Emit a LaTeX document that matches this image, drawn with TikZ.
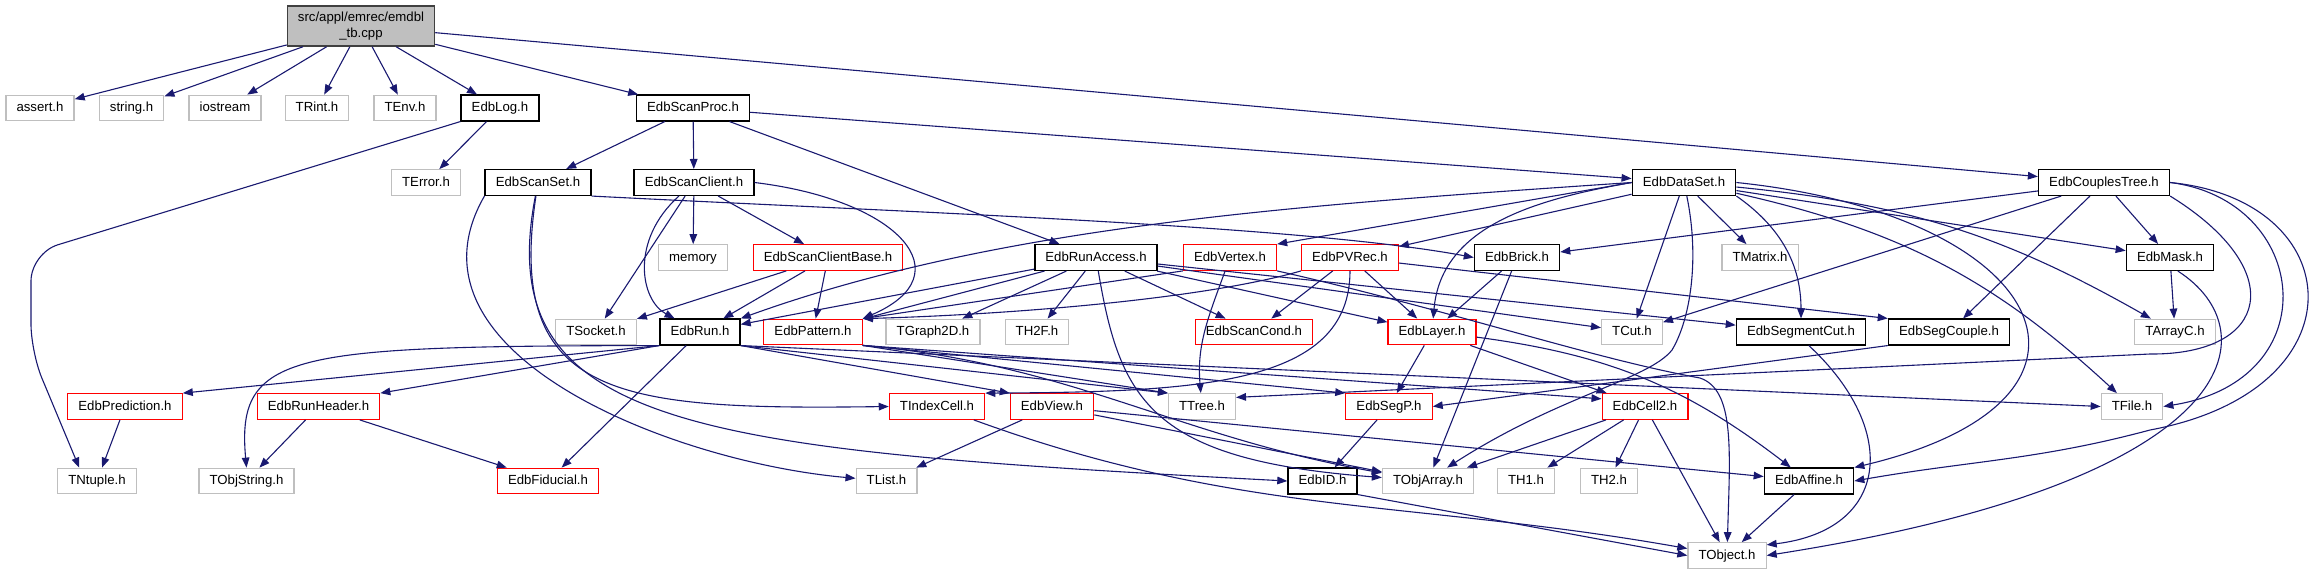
\documentclass[tikz,border=0pt]{standalone}
\usepackage{fontspec}
\setmainfont{Liberation Sans}
\usepackage{tikz}
\usetikzlibrary{arrows.meta}

\definecolor{edgeblue}{HTML}{191970}
\definecolor{hdrgray}{HTML}{BFBFBF}
\definecolor{hdrred}{HTML}{FF0000}

\tikzset{
  hdr/.style={draw, rectangle, line width=0.6pt, minimum height=12.8pt,
    inner xsep=5.3pt, inner ysep=0pt, text height=4.8pt, text depth=1.3pt,
    font=\fontsize{6.6}{7.7}\selectfont},
  syshdr/.style={hdr, draw=hdrgray},
  edbhdr/.style={hdr, draw=black, line width=0.75pt},
  redhdr/.style={hdr, draw=hdrred},
  dep/.style={draw=edgeblue, line width=0.55pt, -{Triangle[length=5pt,width=3.8pt]}}
}

\begin{document}
\begin{tikzpicture}[x=0.5pt, y=-0.5pt]
\useasboundingbox (0,0) rectangle (2320,575);

% the source file
\node[draw=black!75, fill=hdrgray, line width=0.75pt, minimum width=73.5pt, minimum height=20pt,
  inner sep=0pt, align=center, font=\fontsize{6.6}{7.7}\selectfont] (main) at (361,26) {src/appl/emrec/emdbl\\\_tb.cpp};

% row 1
\node[syshdr] (assert) at (40,108) {assert.h};
\node[syshdr] (string) at (131.6,108) {string.h};
\node[syshdr] (iostream) at (225,108) {iostream};
\node[syshdr] (TRint) at (317,108) {TRint.h};
\node[syshdr] (TEnv) at (405,108) {TEnv.h};
\node[edbhdr] (EdbLog) at (500,108) {EdbLog.h};
\node[edbhdr] (EdbScanProc) at (693,108) {EdbScanProc.h};
% row 2
\node[syshdr] (TError) at (426,182.5) {TError.h};
\node[edbhdr] (EdbScanSet) at (538,182.5) {EdbScanSet.h};
\node[edbhdr] (EdbScanClient) at (694,182.5) {EdbScanClient.h};
\node[edbhdr] (EdbDataSet) at (1684,182.5) {EdbDataSet.h};
\node[edbhdr] (EdbCouplesTree) at (2104,182.5) {EdbCouplesTree.h};
% row 3
\node[syshdr] (memory) at (693,257.5) {memory};
\node[redhdr] (EdbScanClientBase) at (828,257.5) {EdbScanClientBase.h};
\node[edbhdr] (EdbRunAccess) at (1096,257.5) {EdbRunAccess.h};
\node[redhdr] (EdbVertex) at (1230,257.5) {EdbVertex.h};
\node[redhdr] (EdbPVRec) at (1350,257.5) {EdbPVRec.h};
\node[edbhdr] (EdbBrick) at (1517,257.5) {EdbBrick.h};
\node[syshdr] (TMatrix) at (1760,257.5) {TMatrix.h};
\node[edbhdr] (EdbMask) at (2170,257.5) {EdbMask.h};
% row 4
\node[syshdr] (TSocket) at (596,332) {TSocket.h};
\node[edbhdr] (EdbRun) at (700,332) {EdbRun.h};
\node[redhdr] (EdbPattern) at (813,332) {EdbPattern.h};
\node[syshdr] (TGraph2D) at (933,332) {TGraph2D.h};
\node[syshdr] (TH2F) at (1037,332) {TH2F.h};
\node[redhdr] (EdbScanCond) at (1254,332) {EdbScanCond.h};
\node[redhdr] (EdbLayer) at (1432,332) {EdbLayer.h};
\node[syshdr] (TCut) at (1632,332) {TCut.h};
\node[edbhdr] (EdbSegmentCut) at (1801,332) {EdbSegmentCut.h};
\node[edbhdr] (EdbSegCouple) at (1949,332) {EdbSegCouple.h};
\node[syshdr] (TArrayC) at (2175,332) {TArrayC.h};
% row 5
\node[redhdr] (EdbPrediction) at (125,406.5) {EdbPrediction.h};
\node[redhdr] (EdbRunHeader) at (318.5,406.5) {EdbRunHeader.h};
\node[redhdr] (TIndexCell) at (937,406.5) {TIndexCell.h};
\node[redhdr] (EdbView) at (1052,406.5) {EdbView.h};
\node[syshdr] (TTree) at (1202,406.5) {TTree.h};
\node[redhdr] (EdbSegP) at (1389,406.5) {EdbSegP.h};
\node[redhdr] (EdbCell2) at (1645,406.5) {EdbCell2.h};
\node[syshdr] (TFile) at (2132,406.5) {TFile.h};
% row 6
\node[syshdr] (TNtuple) at (97,481) {TNtuple.h};
\node[syshdr] (TObjString) at (246.5,481) {TObjString.h};
\node[redhdr] (EdbFiducial) at (548,481) {EdbFiducial.h};
\node[syshdr] (TList) at (886.5,481) {TList.h};
\node[edbhdr] (EdbID) at (1322.5,481) {EdbID.h};
\node[syshdr] (TObjArray) at (1428,481) {TObjArray.h};
\node[syshdr] (TH1) at (1526,481) {TH1.h};
\node[syshdr] (TH2) at (1609,481) {TH2.h};
\node[edbhdr] (EdbAffine) at (1809,481) {EdbAffine.h};
% row 7
\node[syshdr] (TObject) at (1727,555.5) {TObject.h};

% includes of the source file
\draw[dep] (main) -- (assert);
\draw[dep] (main) -- (string);
\draw[dep] (main) -- (iostream);
\draw[dep] (main) -- (TRint);
\draw[dep] (main) -- (TEnv);
\draw[dep] (main) -- (EdbLog);
\draw[dep] (main) -- (EdbScanProc);
\draw[dep] (main) -- (EdbCouplesTree);

\draw[dep] (EdbLog) -- (TError);
\draw[dep, rounded corners=14pt] (EdbLog.south west) -- (31,253) -- (31,352) -- (TNtuple.143);

\draw[dep] (EdbScanProc) -- (EdbScanSet);
\draw[dep] (EdbScanProc) -- (EdbScanClient);
\draw[dep] (EdbScanProc) -- (EdbRunAccess);
\draw[dep] (EdbScanProc) -- (EdbDataSet);

\draw[dep] (EdbScanSet.south east) .. controls (900,212) and (1300,225) .. (EdbBrick.west);
\draw[dep] (EdbScanSet) .. controls (505,400) and (620,410) .. (TIndexCell.west);
\draw[dep] (EdbScanSet) .. controls (490,430) and (700,450) .. (EdbID.west);
\draw[dep] (EdbScanSet.south west) to[out=-120,in=175] (TList);

\draw[dep] (EdbScanClient) -- (memory);
\draw[dep] (EdbScanClient) -- (EdbScanClientBase);
\draw[dep] (EdbScanClient) -- (TSocket);
\draw[dep] (EdbScanClient) .. controls (630,240) and (640,300) .. (EdbRun);
\draw[dep] (EdbScanClient.east) .. controls (900,200) and (965,275) .. (EdbPattern.north east);

\draw[dep] (EdbScanClientBase) -- (TSocket);
\draw[dep] (EdbScanClientBase) -- (EdbRun);
\draw[dep] (EdbScanClientBase) -- (EdbPattern);

\draw[dep] (EdbRunAccess) -- (EdbRun);
\draw[dep] (EdbRunAccess) -- (EdbPattern);
\draw[dep] (EdbRunAccess) -- (TGraph2D);
\draw[dep] (EdbRunAccess) -- (TH2F);
\draw[dep] (EdbRunAccess) -- (EdbScanCond);
\draw[dep] (EdbRunAccess) -- (EdbLayer);
\draw[dep] (EdbRunAccess) -- (TCut);
\draw[dep] (EdbRunAccess) -- (EdbSegmentCut);
\draw[dep] (EdbRunAccess) .. controls (1120,400) and (1150,460) .. (TObjArray);

\draw[dep] (EdbDataSet.west) .. controls (1300,205) and (1000,225) .. (EdbRun.north east);
\draw[dep] (EdbDataSet.west) -- (EdbVertex.north east);
\draw[dep] (EdbDataSet) -- (EdbPVRec);
\draw[dep] (EdbDataSet.west) to[out=190,in=85] (EdbLayer);
\draw[dep] (EdbDataSet) -- (TCut);
\draw[dep] (EdbDataSet) .. controls (1700,260) and (1690,320) .. (1672,350)
  .. controls (1648,380) and (1560,395) .. (TObjArray.35);
\draw[dep] (EdbDataSet) -- (TMatrix);
\draw[dep] (EdbDataSet.south east) to[out=-35,in=90] (EdbSegmentCut);
\draw[dep] (EdbDataSet) -- (EdbMask);
\draw[dep] (EdbDataSet) to[bend left=12] (TArrayC);
\draw[dep] (EdbDataSet) to[bend left=15] (TFile);
\draw[dep] (EdbDataSet.east) .. controls (2050,215) and (2140,400) .. (EdbAffine.north east);

\draw[dep] (EdbCouplesTree) -- (EdbBrick);
\draw[dep] (EdbCouplesTree) -- (TCut);
\draw[dep] (EdbCouplesTree) -- (EdbSegCouple);
\draw[dep] (EdbCouplesTree) -- (EdbMask);
\draw[dep] (EdbCouplesTree.south east) .. controls (2290,270) and (2270,355) .. (2150,354) -- (TTree.15);
\draw[dep] (EdbCouplesTree.east) .. controls (2310,200) and (2330,380) .. (TFile.east);
\draw[dep] (EdbCouplesTree.east) .. controls (2350,200) and (2365,390) .. (2150,430) to[out=195,in=10] (EdbAffine.east);

\draw[dep] (EdbVertex.south west) -- (EdbPattern.north east);
\draw[dep] (EdbVertex) to[out=-110,in=95] (TTree);
\draw[dep] (EdbVertex.south east) .. controls (1450,310) and (1590,358) .. (1700,378)
  .. controls (1735,390) and (1730,450) .. (TObject);

\draw[dep] (EdbPVRec) -- (EdbScanCond);
\draw[dep] (EdbPVRec) -- (EdbLayer);
\draw[dep] (EdbPVRec.south west) .. controls (1200,300) and (1000,315) .. (EdbPattern.north east);
\draw[dep] (EdbPVRec) .. controls (1350,385) and (1200,392) .. (TIndexCell.north east);
\draw[dep] (EdbPVRec) -- (EdbSegCouple.north west);

\draw[dep] (EdbBrick) -- (EdbLayer);
\draw[dep] (EdbBrick) -- (TObjArray);

\draw[dep] (EdbMask) -- (TArrayC);
\draw[dep] (EdbMask.-60) .. controls (2270,330) and (2250,480) .. (TObject.east);

\draw[dep] (EdbRun.south west) -- (EdbPrediction.north east);
\draw[dep] (EdbRun.south west) -- (EdbRunHeader.north east);
\draw[dep] (EdbRun.south west) .. controls (290,346) and (236,352) .. (TObjString.north);
\draw[dep] (EdbRun) -- (EdbFiducial);
\draw[dep] (EdbRun.south east) -- (EdbView.north west);
\draw[dep] (EdbRun.south east) -- (TTree.north west);
\draw[dep] (EdbRun.south east) -- (TFile.west);

\draw[dep] (EdbPattern.south east) -- (TTree.north west);
\draw[dep] (EdbPattern.south east) -- (EdbSegP.north west);
\draw[dep] (EdbPattern.south east) -- (EdbCell2.170);
\draw[dep] (EdbPattern.south east) to[out=-5,in=170] (TObjArray);

\draw[dep] (EdbLayer) -- (EdbSegP);
\draw[dep] (EdbLayer) -- (EdbCell2);
\draw[dep] (EdbLayer) to[bend left=15] (EdbAffine);

\draw[dep] (EdbSegmentCut.-60) .. controls (1900,430) and (1890,530) .. (TObject.15);
\draw[dep] (EdbSegCouple.south west) -- (EdbSegP.east);

\draw[dep] (EdbPrediction) -- (TNtuple);
\draw[dep] (EdbRunHeader) -- (TObjString);
\draw[dep] (EdbRunHeader) -- (EdbFiducial);
\draw[dep] (TIndexCell) to[out=-20,in=170] (TObject);
\draw[dep] (EdbView) -- (TList);
\draw[dep] (EdbView) -- (TObjArray);
\draw[dep] (EdbView) -- (EdbAffine);
\draw[dep] (EdbSegP) -- (EdbID);
\draw[dep] (EdbCell2) -- (TObjArray);
\draw[dep] (EdbCell2) -- (TH1);
\draw[dep] (EdbCell2) -- (TH2);
\draw[dep] (EdbCell2) -- (TObject);
\draw[dep] (EdbID.south east) -- (TObject.west);
\draw[dep] (EdbAffine) -- (TObject);
\end{tikzpicture}
\end{document}
